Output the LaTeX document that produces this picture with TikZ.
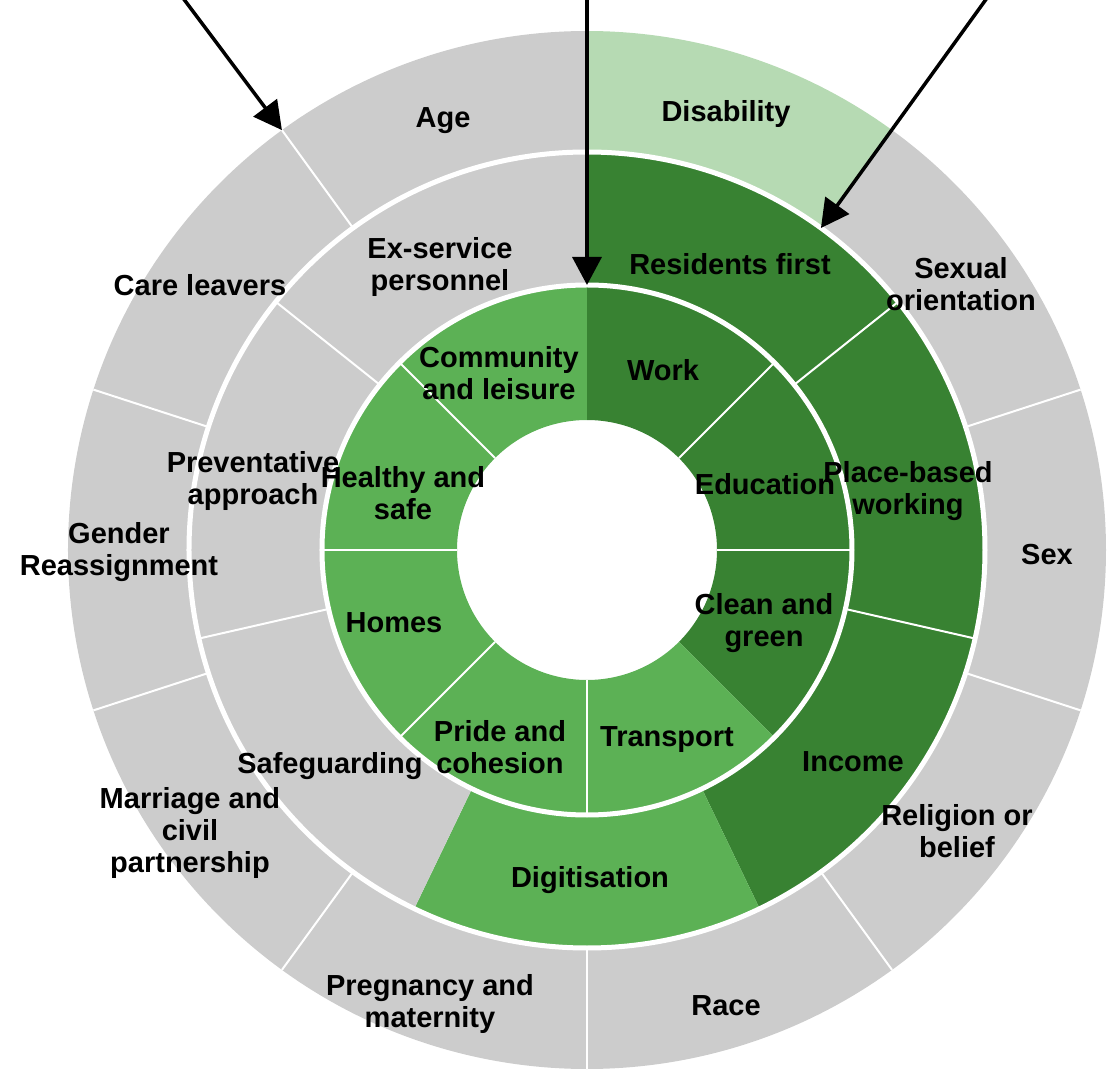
\documentclass[tikz,border=0pt]{standalone}
\usepackage{fontspec}
\setmainfont{Liberation Sans}
\usetikzlibrary{arrows.meta}
\definecolor{segGrey}{HTML}{CCCCCC}
\definecolor{segLight}{HTML}{B6DAB3}
\definecolor{segDark}{HTML}{388232}
\definecolor{segMid}{HTML}{5CB155}
\newcommand{\ringpart}[5]{\fill[#5] (#3:#1pt) arc[start angle=#3,end angle=#4,radius=#1pt] -- (#4:#2pt) arc[start angle=#4,end angle=#3,radius=#2pt] -- cycle;}
\tikzset{
  lbl/.style={align=center, inner sep=0pt, yshift=-3pt, font=\bfseries\fontsize{29}{32}\selectfont, text=black},
  sepline/.style={white, line width=2pt},
  ringgap/.style={white, line width=5pt},
  pointer/.style={black, line width=3.5pt, -{Triangle[length=28pt,width=29pt]}}
}
\begin{document}
\begin{tikzpicture}[x=1pt,y=1pt]
\useasboundingbox (-587,-526) rectangle (530,550);
% outer ring (10 x 36 deg)
\ringpart{398}{519}{90}{126}{segGrey}
\ringpart{398}{519}{54}{90}{segLight}
\ringpart{398}{519}{18}{54}{segGrey}
\ringpart{398}{519}{-18}{18}{segGrey}
\ringpart{398}{519}{-54}{-18}{segGrey}
\ringpart{398}{519}{-90}{-54}{segGrey}
\ringpart{398}{519}{-126}{-90}{segGrey}
\ringpart{398}{519}{-162}{-126}{segGrey}
\ringpart{398}{519}{162}{198}{segGrey}
\ringpart{398}{519}{126}{162}{segGrey}
% middle ring (7 segments)
\ringpart{265}{398}{38.571}{90}{segDark}
\ringpart{265}{398}{-12.857}{38.571}{segDark}
\ringpart{265}{398}{-64.286}{-12.857}{segDark}
\ringpart{265}{398}{-115.714}{-64.286}{segMid}
\ringpart{265}{398}{-167.143}{-115.714}{segGrey}
\ringpart{265}{398}{141.429}{192.857}{segGrey}
\ringpart{265}{398}{90}{141.429}{segGrey}
% inner ring (8 x 45 deg)
\ringpart{130}{265}{45}{90}{segDark}
\ringpart{130}{265}{0}{45}{segDark}
\ringpart{130}{265}{-45}{0}{segDark}
\ringpart{130}{265}{-90}{-45}{segMid}
\ringpart{130}{265}{-135}{-90}{segMid}
\ringpart{130}{265}{180}{225}{segMid}
\ringpart{130}{265}{135}{180}{segMid}
\ringpart{130}{265}{90}{135}{segMid}
% separators
\foreach \a in {90,126,162,198,234,270,306,342,18}
  \draw[sepline] (\a:398pt) -- (\a:519pt);
\foreach \a in {90,38.571,-12.857,-167.143,141.429}
  \draw[sepline] (\a:265pt) -- (\a:398pt);
\foreach \a in {45,0,-90,-135,180,135}
  \draw[sepline] (\a:130pt) -- (\a:265pt);
\draw[ringgap] (0,0) circle[radius=265pt];
\draw[ringgap] (0,0) circle[radius=398pt];
% labels outer
\node[lbl] (age) at (-144,432) {Age};
\node[lbl] (disability) at (139,439) {Disability};
\node[lbl] (sexor) at (374,269) {Sexual\\orientation};
\node[lbl] (sex) at (460,-2) {Sex};
\node[lbl] (religion) at (370,-278) {Religion or\\belief};
\node[lbl] (race) at (139,-453) {Race};
\node[lbl] (pregnancy) at (-157,-451) {Pregnancy and\\maternity};
\node[lbl] (marriage) at (-397,-280) {Marriage and\\civil\\partnership};
\node[lbl] (gender) at (-468,1) {Gender\\Reassignment};
\node[lbl] (care) at (-387,268) {Care leavers};
% labels middle
\node[lbl] (exservice) at (-147,286) {Ex-service\\personnel};
\node[lbl] (residents) at (143,289) {Residents first};
\node[lbl] (place) at (321,62) {Place-based\\working};
\node[lbl] (income) at (266,-209) {Income};
\node[lbl] (digit) at (3,-327) {Digitisation};
\node[lbl] (safe) at (-257,-213) {Safeguarding};
\node[lbl] (prevent) at (-334,72) {Preventative\\approach};
% labels inner
\node[lbl] (community) at (-88,180) {Community\\and leisure};
\node[lbl] (work) at (76,183) {Work};
\node[lbl] (education) at (178,69) {Education};
\node[lbl] (clean) at (177,-70) {Clean and\\green};
\node[lbl] (transport) at (80,-187) {Transport};
\node[lbl] (pride) at (-87,-194) {Pride and\\cohesion};
\node[lbl] (homes) at (-193,-70) {Homes};
\node[lbl] (healthy) at (-184,60) {Healthy and\\safe};
% arrows
\coordinate (srcA) at (-404,552);
\coordinate (tipA) at (126:519pt);
\coordinate (srcB) at (0,552);
\coordinate (tipB) at (90:265pt);
\coordinate (srcC) at (400,552);
\coordinate (tipC) at (54:398pt);
\draw[pointer] (srcA) -- (tipA);
\draw[pointer] (srcB) -- (tipB);
\draw[pointer] (srcC) -- (tipC);
\end{tikzpicture}
\end{document}
